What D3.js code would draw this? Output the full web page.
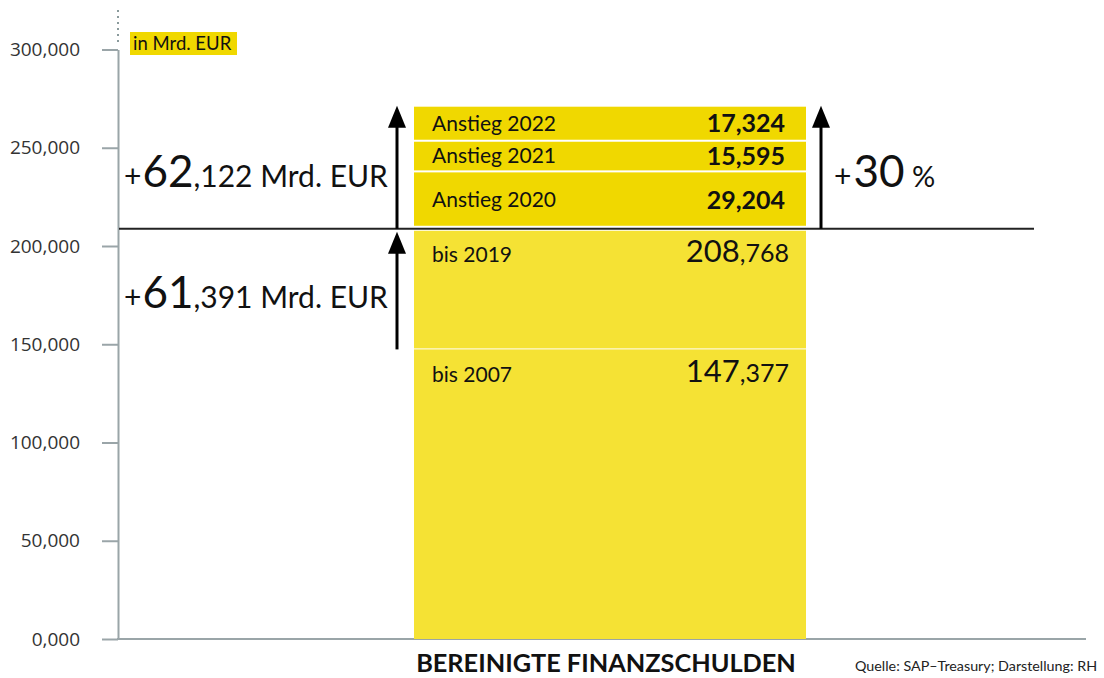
<!DOCTYPE html>
<html><head><meta charset="utf-8">
<script src="https://cdn.jsdelivr.net/npm/d3@7"></script>
<style>
html,body{margin:0;padding:0;background:#fff;}
svg{display:block;}
text{fill:#111;}
</style></head>
<body>
<svg id="chart" width="1104" height="678" font-family="Lato, 'Open Sans', sans-serif"></svg>
<script>
// ---- data (values in Mrd. EUR, thousands shown with 3 decimals) ----
const categories = ["bis 2007", "bis 2019", "Anstieg 2020", "Anstieg 2021", "Anstieg 2022"];
const increments = [147.377, 61.391, 29.204, 15.595, 17.324];
const segmentKinds = ["base", "base", "rise", "rise", "rise"];
const tickValues = [0, 50, 100, 150, 200, 250, 300];
const tickLabels = ["0,000", "50,000", "100,000", "150,000", "200,000", "250,000", "300,000"];
const increaseLower = ["+", "61", ",391 Mrd. EUR"];
const increaseUpper = ["+", "62", ",122 Mrd. EUR"];
const increasePct = ["+", "30", " %"];
const unitLabel = "in Mrd. EUR";
const title = "BEREINIGTE FINANZSCHULDEN";
const source = "Quelle: SAP\u2013Treasury; Darstellung: RH";

const svg = d3.select("#chart");
const y = d3.scaleLinear().domain([0, 300]).range([639, 49.5]);
const x = d3.scaleBand().domain(["Bereinigte Finanzschulden"]).range([414, 806]).padding(0);
const axisX = 118;
const de = d3.formatLocale({decimal: ",", thousands: ".", grouping: [3], currency: ["", "€"]});
const fmt = de.format(".3f");

// cumulative stack
let acc = 0;
const segs = categories.map((c, i) => {
  const s = {cat: c, v: increments[i], kind: segmentKinds[i], y0: acc, y1: acc + increments[i]};
  acc += increments[i];
  return s;
});
const base2019 = segs[1].y1;   // 208,768
const top2022 = segs[4].y1;
const base2007 = segs[0].y1;

// axis
const ax = svg.append("g").attr("transform", `translate(${axisX},0)`)
  .call(d3.axisLeft(y).tickValues(tickValues).tickFormat((d, i) => tickLabels[i])
    .tickSize(16).tickSizeOuter(0).tickPadding(22));
ax.selectAll("path.domain").attr("stroke", "#9aa5a8").attr("stroke-width", 2);
ax.selectAll(".tick line").attr("stroke", "#9aa5a8").attr("stroke-width", 2);
ax.selectAll(".tick text").style("font-family", "'Open Sans',sans-serif").style("font-size", "19px").style("fill", "#333");
// dotted continuation
svg.append("line").attr("x1", axisX).attr("x2", axisX).attr("y1", 10).attr("y2", y(300) - 4)
  .attr("stroke", "#8a9a9c").attr("stroke-width", 2).attr("stroke-dasharray", "2,4");
// baseline
svg.append("line").attr("x1", axisX - 1).attr("x2", 1086).attr("y1", y(0)).attr("y2", y(0))
  .attr("stroke", "#9aa5a8").attr("stroke-width", 2);

// bar segments
const bx = x("Bereinigte Finanzschulden"), bw = x.bandwidth();
function segTop(d) { return y(d.y1) + (d.kind === "rise" && d.cat !== "Anstieg 2022" ? 1 : 0) + (d.cat === "bis 2019" ? 2 : 0); }
function segBot(d) { return y(d.y0) - (d.y0 > 0 ? 1 : 0) - (d.cat === "Anstieg 2020" ? 2 : 0); }
svg.append("g").selectAll("rect").data(segs).join("rect")
  .attr("x", bx).attr("width", bw)
  .attr("y", d => segTop(d))
  .attr("height", d => Math.max(0, segBot(d) - segTop(d)))
  .attr("fill", d => d.kind === "rise" ? "#f0d800" : "#f5e234");

// segment labels
const lab = svg.append("g");
segs.forEach(d => {
  let by;
  if (d.kind === "rise") by = (y(d.y0) + y(d.y1)) / 2 + 7;
  else by = y(d.y1) + 33;
  lab.append("text").attr("x", 432).attr("y", by).attr("font-size", 21).text(d.cat);
  if (d.kind === "rise") {
    lab.append("text").attr("x", 785).attr("y", by + 1.5).attr("text-anchor", "end")
      .attr("font-size", 25).attr("font-weight", "bold").text(fmt(d.v));
  } else {
    const s = fmt(d.y1).split(",");
    const t = lab.append("text").attr("x", 789).attr("y", by).attr("text-anchor", "end");
    t.append("tspan").attr("font-size", 31).text(s[0]);
    t.append("tspan").attr("font-size", 25).text("," + s[1]);
  }
});

// 208,768 reference line
svg.append("line").attr("x1", axisX + 1).attr("x2", 1034).attr("y1", y(base2019)).attr("y2", y(base2019))
  .attr("stroke", "#222").attr("stroke-width", 2);

// arrows
function arrow(ax0, yFrom, yTip) {
  const g = svg.append("g");
  g.append("line").attr("x1", ax0).attr("x2", ax0).attr("y1", yFrom).attr("y2", yTip + 18)
    .attr("stroke", "#000").attr("stroke-width", 3);
  g.append("path").attr("d", `M${ax0},${yTip} L${ax0 - 9},${yTip + 22} L${ax0 + 9},${yTip + 22} Z`).attr("fill", "#000");
}
arrow(397, y(base2019), y(top2022) - 1);
arrow(821, y(base2019), y(top2022) - 1);
arrow(397, y(base2007), y(base2019) + 3);

// increase annotations
function bigLabel(parts, xx, yy, midSize, gap) {
  const t = svg.append("text").attr("x", xx).attr("y", yy);
  t.append("tspan").attr("font-size", 30).text(parts[0]);
  t.append("tspan").attr("font-size", 44).attr("dx", gap).text(parts[1]);
  t.append("tspan").attr("font-size", midSize).text(parts[2]);
}
bigLabel(increaseUpper, 124, (y(base2019) + y(top2022)) / 2 + 19, 30, 1);
bigLabel(increaseLower, 124, (y(base2007) + y(base2019)) / 2 + 19, 30, 1);
bigLabel(increasePct, 834, (y(base2019) + y(top2022)) / 2 + 19, 29, 2);

// unit label
const ul = svg.append("g");
ul.append("rect").attr("x", 130).attr("y", 32).attr("width", 107).attr("height", 23).attr("fill", "#f0d800");
ul.append("text").attr("x", 133).attr("y", 50).attr("font-size", 18.5).text(unitLabel);

// title & source
svg.append("text").attr("x", 606).attr("y", 672).attr("text-anchor", "middle")
  .attr("font-size", 25.3).attr("font-weight", "bold").text(title);
svg.append("text").attr("x", 855).attr("y", 671).attr("font-size", 14.3).style("fill", "#222").text(source);
</script>
</body></html>
